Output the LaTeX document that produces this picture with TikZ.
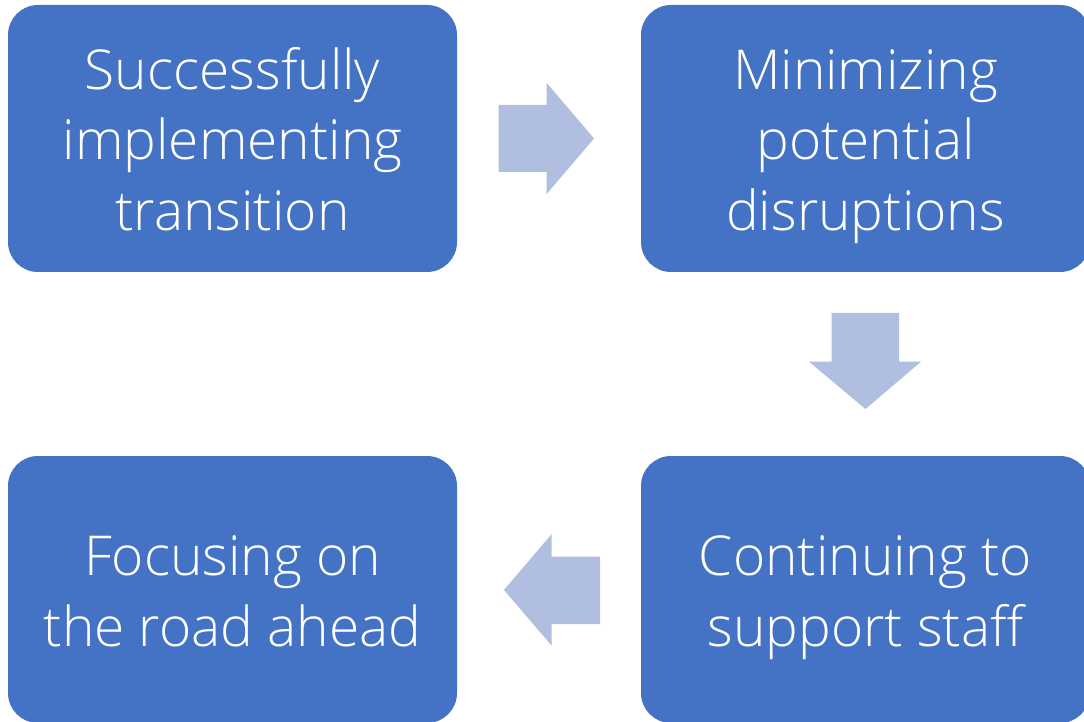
\documentclass[tikz,border=0pt]{standalone}
\usepackage{fontspec}
\IfFontExistsTF{Open Sans Light}{\setmainfont{Open Sans Light}\def\mysize{55}}{\setmainfont{Open Sans}\def\mysize{54}}
\definecolor{boxblue}{RGB}{68,114,196}
\definecolor{arrowblue}{RGB}{176,190,224}
\newcommand{\ls}{\rule[-13pt]{0pt}{69pt}}
\begin{document}
\begin{tikzpicture}[x=1pt,y=1pt,
  stepbox/.style={rectangle, rounded corners=30pt, fill=boxblue, draw=none,
    minimum width=449pt, minimum height=267pt, text=white, align=center, inner sep=0pt,
    font=\fontsize{\mysize}{69}\selectfont},
  blockarrow/.style={fill=arrowblue, draw=none}]
\useasboundingbox (0,0) rectangle (1084,721);
\clip (0,0) rectangle (1084,721);
\node[stepbox] (a) at (232.5,582.5) {\ls Successfully\\\ls implementing\\\ls transition};
\node[stepbox] (b) at (865.5,582.5) {\ls Minimizing\\\ls potential\\\ls disruptions};
\node[stepbox] (c) at (865.5,131.5) {\ls Continuing to\\\ls support staff};
\node[stepbox] (d) at (232.5,131.5) {\ls Focusing on\\\ls the road ahead};
% right arrow
\fill[blockarrow] (498.7,616) -- (546.7,616) -- (546.7,638) -- (594,582.5) -- (546.7,527) -- (546.7,549) -- (498.7,549) -- cycle;
% down arrow
\fill[blockarrow] (831.7,408) -- (899,408) -- (899,359.3) -- (921,359.3) -- (865.5,312) -- (809,359.3) -- (831.7,359.3) -- cycle;
% left arrow
\fill[blockarrow] (600,164.3) -- (551.7,164.3) -- (551.7,187) -- (504,131) -- (551.7,75.3) -- (551.7,97) -- (600,97) -- cycle;
\end{tikzpicture}
\end{document}
